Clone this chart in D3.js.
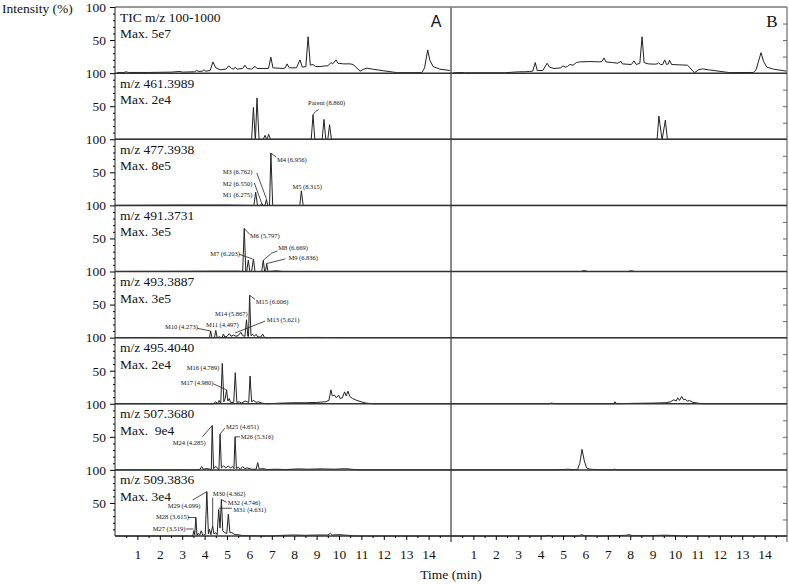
<!DOCTYPE html>
<html>
<head>
<meta charset="utf-8">
<script src="https://cdn.jsdelivr.net/npm/d3@7"></script>
<style>
body { margin: 0; background: #fff; }
svg text { font-family: "Liberation Serif", "DejaVu Serif", "Noto Serif", Tinos, serif; fill: #111; }
</style>
</head>
<body>
<script>
var width = 789;
var height = 584;
var serif = '"Liberation Serif", "DejaVu Serif", "Noto Serif", Tinos, serif';

// row labels
const rowTitles = ["TIC m/z 100-1000", "m/z 461.3989", "m/z 477.3938", "m/z 491.3731",
  "m/z 493.3887", "m/z 495.4040", "m/z 507.3680", "m/z 509.3836"];
const rowMax = ["Max. 5e7", "Max. 2e4", "Max. 8e5", "Max. 3e5", "Max. 3e5", "Max. 2e4", "Max.\u00a0\u00a09e4", "Max. 3e4"];
const xTicks = [1, 2, 3, 4, 5, 6, 7, 8, 9, 10, 11, 12, 13, 14];

// traces, [time (min), intensity (%)] - panel A
const ticA = [[0.1,1],[0.4,1],[0.5,2],[0.6,1],[1.5,1],[2.5,1.5],[2.9,2.5],[3.0,1.5],[3.55,2],[3.65,4],[3.75,2.5],[3.9,3],[3.97,5],[4.05,3],[4.25,4],[4.37,17],[4.5,8],[4.7,5],[4.95,6],[5.08,11],[5.2,7],[5.3,6],[5.36,9],[5.45,6],[5.7,7],[5.8,12],[5.9,7],[6.1,6],[6.25,10],[6.35,7],[6.85,7],[6.96,24],[7.05,8],[7.5,7],[7.6,8],[7.68,14],[7.78,8],[8.1,8],[8.26,20],[8.36,9],[8.52,10],[8.62,55],[8.72,12],[8.84,13],[8.95,10],[9.2,10],[9.38,11],[9.5,11],[9.64,16],[9.72,14],[9.87,20],[9.95,15],[10.2,14],[10.5,14],[10.63,13],[10.94,3],[11.1,6],[11.25,7.5],[11.5,6],[12.0,3.5],[12.6,0.7],[13.7,0.7],[13.82,8],[13.96,35],[14.05,20],[14.2,10],[14.5,6],[14.95,4]];
const mz461A = [[0,0],[5.5,0],[6.1,0],[6.18,48],[6.26,0],[6.27,0],[6.34,62.5],[6.43,0],[6.62,0],[6.7,6],[6.77,0],[6.8,1],[6.86,7.5],[6.94,0],[8.0,0],[8.76,0],[8.84,37],[8.92,0],[9.25,0],[9.33,30],[9.41,0],[9.5,0],[9.58,22],[9.66,0],[15,0]];
const mz477A = [[0,0],[3,0.5],[5,0.5],[6.2,0],[6.28,20],[6.36,0],[6.5,0],[6.55,3],[6.6,0],[6.7,0],[6.76,9],[6.82,0],[6.9,0],[6.96,79],[7.04,0],[8.25,0],[8.32,22],[8.4,0],[15,0]];
const mz491A = [[0,0],[5.0,0.5],[5.5,0.5],[5.7,0],[5.77,65],[5.84,0],[5.88,0],[5.95,17],[6.02,0],[6.1,0],[6.18,19],[6.25,0],[6.55,0],[6.62,17],[6.68,0],[6.72,0],[6.77,12],[6.83,0],[7.2,1],[7.5,0],[15,0]];
const mz493A = [[0,0],[4.0,0],[4.22,0],[4.27,10],[4.33,0],[4.44,0],[4.5,11],[4.56,0],[4.65,1],[4.78,0],[4.84,5.5],[4.9,1],[5.0,2],[5.1,6],[5.18,2],[5.3,4],[5.4,2],[5.5,3],[5.62,8],[5.7,3],[5.8,2],[5.87,27],[5.93,2],[5.96,2],[6.01,64],[6.07,3],[6.15,5],[6.22,2],[6.3,5],[6.38,1],[6.5,1],[6.6,5],[6.68,0],[7,0],[9,0.3],[10,0],[15,0]];
const mz495A = [[0,0],[4.4,0],[4.5,3],[4.58,0],[4.65,5],[4.72,0],[4.79,61],[4.86,3],[4.92,8],[4.98,21],[5.04,4],[5.1,8],[5.16,2],[5.3,2],[5.37,47],[5.44,2],[5.55,3],[5.65,1],[5.8,4],[5.9,3],[5.97,2],[6.03,42],[6.1,3],[6.2,5],[6.3,2],[6.4,3],[6.55,1],[6.8,0],[7.5,1],[8.0,1.5],[8.5,1.5],[9.0,2],[9.4,3],[9.55,5],[9.64,21],[9.7,12],[9.8,13],[9.88,9],[9.98,13],[10.05,8],[10.15,9],[10.25,18],[10.32,12],[10.4,19],[10.48,11],[10.6,8],[10.8,5],[11.0,3],[11.2,1],[11.5,0],[15,0]];
const mz507A = [[0,0],[3.7,0],[3.8,1],[3.87,5],[3.95,1],[4.1,2],[4.25,1],[4.3,0],[4.34,67],[4.4,2],[4.5,5],[4.6,2],[4.64,0],[4.69,54],[4.75,3],[4.85,6],[4.95,3],[5.05,6],[5.15,3],[5.25,5],[5.31,2],[5.36,50],[5.42,2],[5.5,4],[5.6,1],[5.7,5],[5.8,2],[5.9,3],[6.1,1],[6.3,1],[6.37,11],[6.44,1],[6.6,2],[6.8,0.5],[7.2,1],[7.6,0.5],[8.2,1.5],[8.6,1],[9.2,1.5],[9.8,1],[10.3,1.8],[10.7,0.5],[11,0],[15,0]];
const mz509A = [[0,0],[3.4,0],[3.47,0],[3.52,8],[3.56,2],[3.61,28],[3.66,1],[3.72,4],[3.78,1],[3.85,8],[3.92,1],[4.03,2],[4.1,67],[4.17,3],[4.22,10],[4.28,2],[4.36,15],[4.42,3],[4.5,5],[4.56,2],[4.63,40],[4.69,12],[4.75,55],[4.81,8],[4.9,5],[4.99,4],[5.06,33],[5.13,5],[5.22,5],[5.35,2],[5.5,2],[5.7,0.5],[7.0,0],[7.5,1],[8.0,1.5],[8.5,1],[9.0,1.5],[9.5,1.5],[9.62,4],[9.7,1.5],[10.0,2],[10.4,1],[10.7,0],[15,0]];

// panel B
const ticB = [[0.1,0.5],[0.5,1],[0.6,0.5],[2.4,0.5],[2.8,1.5],[3.07,2],[3.3,2],[3.5,2.5],[3.65,3],[3.76,16],[3.85,4],[4.1,4],[4.29,15],[4.4,9],[4.6,7],[4.9,8],[5.0,11],[5.1,9],[5.2,10],[5.3,13],[5.45,12],[5.6,16],[5.75,17],[6.2,17.5],[6.64,17],[6.75,18],[6.83,23],[6.92,17],[7.2,16],[7.45,15],[7.58,18],[7.65,14],[8.05,13],[8.17,18.5],[8.27,13],[8.43,15],[8.53,55],[8.62,16],[8.8,14],[9.1,13.5],[9.2,14],[9.27,15.5],[9.35,13],[9.45,13],[9.54,20],[9.62,13],[9.7,14],[9.76,19.5],[9.85,13],[10.2,12.5],[10.56,12],[10.87,0.5],[11.05,5],[11.23,6.5],[11.5,5],[12.43,0.8],[13.5,1],[13.62,5],[13.84,31],[13.95,18],[14.1,9],[14.4,6],[14.97,3]];
const mz461B = [[0,0],[9.2,0],[9.28,35],[9.42,0],[9.43,0],[9.57,29],[9.66,0],[15,0]];
const mz477B = [[0,0],[15,0]];
const mz491B = [[0,0],[5.8,0],[5.95,1.5],[6.1,0],[7.9,0],[8.05,1.2],[8.2,0],[15,0]];
const mz493B = [[0,0],[15,0]];
const mz495B = [[0,0],[4.4,0],[4.5,1],[4.6,0],[7.25,0],[7.32,3],[7.4,0],[8.0,0.5],[9.0,1],[9.6,1.5],[9.8,3],[9.95,6],[10.05,4],[10.12,9],[10.2,5],[10.3,11],[10.38,6],[10.45,7],[10.55,4],[10.65,5],[10.8,2],[11.0,1],[11.2,0],[15,0]];
const mz507B = [[0,0],[4.6,0],[5.0,0.5],[5.2,1],[5.4,0.5],[5.65,0.5],[5.75,10],[5.85,31],[5.95,14],[6.05,3],[6.2,1],[6.4,0.5],[7.2,0],[7.3,1],[7.4,0],[15,0]];
const mz509B = [[0,0],[4.2,0],[4.35,1],[4.5,0],[5.7,0],[5.82,2],[5.95,0.5],[6.8,0],[7.2,0.5],[7.8,1],[7.95,2],[8.1,0.5],[8.9,0.5],[9.3,1],[9.6,1.2],[10.1,0.5],[10.3,0],[15,0]];

const tracesA = [ticA, mz461A, mz477A, mz491A, mz493A, mz495A, mz507A, mz509A];
const tracesB = [ticB, mz461B, mz477B, mz491B, mz493B, mz495B, mz507B, mz509B];

// peak labels: row, text, text start [t, %], leader line points [t, %]
const peakNotes = [
  [1, "Parent (8.860)", [8.62, 51.5], [[8.84,37],[8.95,42],[9.1,45]]],
  [2, "M4 (6.956)", [7.23, 65], [[6.96,79],[7.2,73]]],
  [2, "M3 (6.762)", [4.81, 47], [[6.33,49],[6.76,10]]],
  [2, "M2 (6.550)", [4.81, 30], [[6.22,34],[6.55,3]]],
  [2, "M1 (6.275)", [4.81, 12.6], []],
  [2, "M5 (8.315)", [7.92, 25], []],
  [3, "M6 (5.797)", [6.03, 51], [[5.77,65],[6.02,56]]],
  [3, "M7 (6.203)", [4.25, 23], [[5.55,26],[6.14,19]]],
  [3, "M8 (6.669)", [7.29, 32], [[6.62,17],[7.0,28],[7.25,31]]],
  [3, "M9 (6.836)", [7.74, 18], [[6.77,12],[7.6,19]]],
  [4, "M15 (6.006)", [6.28, 51], [[6.01,64],[6.25,58]]],
  [4, "M14 (5.867)", [4.46, 32], []],
  [4, "M13 (5.621)", [6.77, 23], [[5.36,7],[6.7,25]]],
  [4, "M11 (4.497)", [4.06, 15.6], []],
  [4, "M10 (4.273)", [2.23, 13], [[3.68,14],[4.27,10]]],
  [5, "M16 (4.789)", [3.2, 51], []],
  [5, "M17 (4.980)", [2.93, 29], [[4.4,30],[4.98,21]]],
  [6, "M24 (4.285)", [2.58, 37.4], [[3.9,50],[4.34,67]]],
  [6, "M25 (4.651)", [4.96, 61.7], [[4.69,54],[4.9,63]]],
  [6, "M26 (5.316)", [5.61, 47.4], [[5.36,50],[5.58,50]]],
  [7, "M27 (3.519)", [1.68, 7.6], [[3.18,10.6],[3.5,10.6]]],
  [7, "M28 (3.615)", [1.83, 25.8], [[3.26,28],[3.61,28]]],
  [7, "M29 (4.099)", [2.35, 42], [[3.47,54.5],[4.1,67]]],
  [7, "M30 (4.362)", [4.36, 61], [[4.36,58],[4.36,15]]],
  [7, "M32 (4.746)", [5.03, 47], [[4.75,55],[4.98,51]]],
  [7, "M31 (4.631)", [5.28, 36], [[4.63,42],[5.22,42]]]
];

var top0 = 7, bottom0 = 536;
var rowH = (bottom0 - top0) / 8;

var xA = d3.scaleLinear().domain([0, 15]).range([115, 451]);
var xB = d3.scaleLinear().domain([0, 15]).range([451, 787]);

function yRow(i) {
  return d3.scaleLinear().domain([0, 100]).range([top0 + (i + 1) * rowH, top0 + i * rowH]);
}

var svg = d3.select("body").append("svg")
    .attr("width", width)
    .attr("height", height)
    .attr("font-family", serif);

function serifText(sel, size) {
  sel.attr("font-family", serif).style("font-family", serif)
     .style("font-size", size).attr("fill", "#111");
}

// frame
svg.append("line").attr("x1", 115).attr("x2", 787).attr("y1", top0).attr("y2", top0)
    .attr("stroke", "#777").attr("stroke-width", 1.5);
svg.append("line").attr("x1", 451).attr("x2", 451).attr("y1", top0).attr("y2", 542)
    .attr("stroke", "#888").attr("stroke-width", 2);
svg.append("line").attr("x1", 787).attr("x2", 787).attr("y1", top0).attr("y2", 542)
    .attr("stroke", "#888").attr("stroke-width", 1.5);
svg.append("line").attr("x1", 115).attr("x2", 115).attr("y1", top0).attr("y2", bottom0)
    .attr("stroke", "#222").attr("stroke-width", 1);

for (let i = 0; i < 8; i++) {
  let y = yRow(i);
  let g = svg.append("g").attr("class", "row");

  // left y axis, major + minor
  let ax = g.append("g").attr("transform", "translate(115,0)")
      .call(d3.axisLeft(y).tickValues([50, 100]).tickSize(5).tickPadding(4).tickFormat(d3.format("d")));
  ax.select(".domain").remove();
  ax.call(serifText, "13.5px");
  ax.selectAll("text").call(serifText, "13.5px");
  let mn = g.append("g").attr("transform", "translate(115,0)")
      .call(d3.axisLeft(y).tickValues([10, 20, 30, 40, 60, 70, 80, 90]).tickSize(2).tickFormat(""));
  mn.select(".domain").remove();

  // right side ticks (inward)
  let rt = g.append("g").attr("transform", "translate(787,0)")
      .call(d3.axisLeft(y).tickValues([25, 50, 75]).tickSize(4).tickFormat(""));
  rt.select(".domain").remove();
  rt.selectAll("line").attr("stroke", "#666");

  // traces
  let lineA = d3.line().x(d => xA(d[0])).y(d => y(d[1]));
  let lineB = d3.line().x(d => xB(d[0])).y(d => y(d[1]));
  g.append("path").datum(tracesA[i]).attr("d", lineA)
      .attr("fill", "none").attr("stroke", "#222").attr("stroke-width", 1);
  g.append("path").datum(tracesB[i]).attr("d", lineB)
      .attr("fill", "none").attr("stroke", "#222").attr("stroke-width", 1);

  // row baseline / separator
  g.append("line").attr("x1", 115).attr("x2", 787).attr("y1", y(0)).attr("y2", y(0))
      .attr("stroke", "#333").attr("stroke-width", 1.5);

  // labels
  g.append("text").attr("x", 120).attr("y", y(100) + 14.5)
      .call(serifText, "13.5px").text(rowTitles[i]);
  g.append("text").attr("x", 120).attr("y", y(100) + 31)
      .call(serifText, "13.5px").text(rowMax[i]);
}

// peak annotations
peakNotes.forEach(function(n) {
  let y = yRow(n[0]);
  svg.append("text").attr("x", xA(n[2][0])).attr("y", y(n[2][1]))
      .call(serifText, "6.5px").attr("fill", "#222").text(n[1]);
  if (n[3].length) {
    svg.append("path").datum(n[3])
        .attr("d", d3.line().x(d => xA(d[0])).y(d => y(d[1])))
        .attr("fill", "none").attr("stroke", "#222").attr("stroke-width", 0.8);
  }
});

// x axes
[xA, xB].forEach(function(x) {
  let a = svg.append("g").attr("transform", "translate(0," + bottom0 + ")")
      .call(d3.axisBottom(x).tickValues(xTicks).tickSize(4).tickPadding(9).tickFormat(d3.format("d")));
  a.select(".domain").remove();
  a.call(serifText, "13.5px");
  a.selectAll("text").call(serifText, "13.5px");
  let m = svg.append("g").attr("transform", "translate(0," + bottom0 + ")")
      .call(d3.axisBottom(x).tickValues(d3.range(0.5, 15, 1)).tickSize(2).tickFormat(""));
  m.select(".domain").remove();
});

svg.append("text").attr("x", 2).attr("y", 13).call(serifText, "13.5px").text("Intensity (%)");
svg.append("text").attr("x", 451).attr("y", 579).attr("text-anchor", "middle")
    .call(serifText, "13.5px").text("Time (min)");
svg.append("text").attr("x", 436).attr("y", 27).attr("text-anchor", "middle")
    .attr("font-family", "Liberation Sans, Arial, sans-serif").style("font-family", "Liberation Sans, Arial, sans-serif")
    .style("font-size", "16px").text("A");
svg.append("text").attr("x", 772).attr("y", 27).attr("text-anchor", "middle")
    .call(serifText, "17px").text("B");
</script>
</body>
</html>
